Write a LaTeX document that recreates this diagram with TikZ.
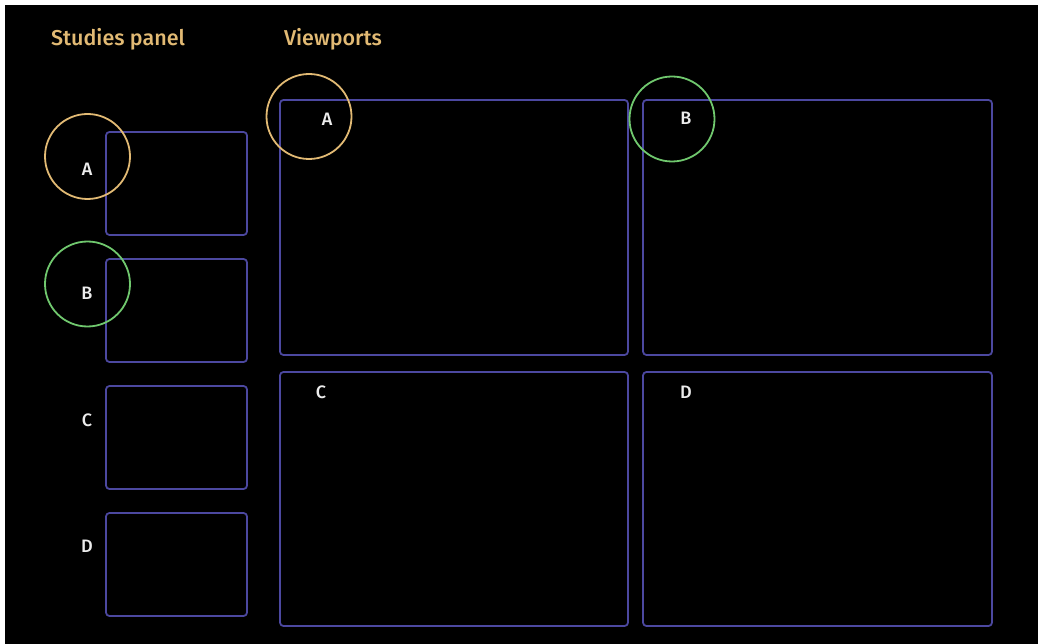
\documentclass[tikz,border=0pt]{standalone}
\usepackage{fontspec}
\setmainfont{Fira Sans Medium}
\definecolor{bg}{RGB}{0,0,0}
\definecolor{boxc}{RGB}{76,72,160}
\definecolor{gold}{RGB}{226,186,116}
\definecolor{grn}{RGB}{112,200,110}
\definecolor{lbl}{RGB}{236,236,236}
\tikzset{
  panel/.style={draw=boxc, line width=1.8pt, rounded corners=3.5pt},
  ring/.style={circle, draw=#1, line width=1.8pt, minimum size=85pt, inner sep=0pt},
  lettr/.style={text=lbl, font=\fontsize{18}{22}\selectfont, inner sep=0pt},
  head/.style={text=gold, font=\fontsize{21.5}{26}\selectfont, inner sep=0pt}
}
\begin{document}
\begin{tikzpicture}[x=1pt,y=-1pt]
\useasboundingbox (0,0) rectangle (1038,644);
\fill[white] (0,0) rectangle (1038,644);
\fill[bg] (5,5) rectangle (1038,644);
% headers
\node[head] (hs) at (118,39) {Studies panel};
\node[head] (hv) at (333,39) {Viewports};
% studies panel boxes
\draw[panel] (106,132) rectangle (247,235) node[coordinate] (s1) {};
\draw[panel] (106,259) rectangle (247,362) node[coordinate] (s2) {};
\draw[panel] (106,386) rectangle (247,489) node[coordinate] (s3) {};
\draw[panel] (106,513) rectangle (247,616) node[coordinate] (s4) {};
% viewports
\draw[panel] (280,100) rectangle (628,355) node[coordinate] (v1) {};
\draw[panel] (643,100) rectangle (992,355) node[coordinate] (v2) {};
\draw[panel] (280,372) rectangle (628,626) node[coordinate] (v3) {};
\draw[panel] (643,372) rectangle (992,626) node[coordinate] (v4) {};
% circles
\node[ring=gold] (ca) at (87.5,156.5) {};
\node[ring=grn] (cb) at (87.5,284) {};
\node[ring=gold] (cva) at (309,116.5) {};
\node[ring=grn] (cvb) at (672,119) {};
% letters
\node[lettr] (la) at (87,169) {A};
\node[lettr] (lb) at (87,293) {B};
\node[lettr] (lc) at (87,420) {C};
\node[lettr] (ld) at (87,546) {D};
\node[lettr] (va) at (327,119) {A};
\node[lettr] (vb) at (686,118) {B};
\node[lettr] (vc) at (321,392) {C};
\node[lettr] (vd) at (686,392) {D};
\end{tikzpicture}
\end{document}
